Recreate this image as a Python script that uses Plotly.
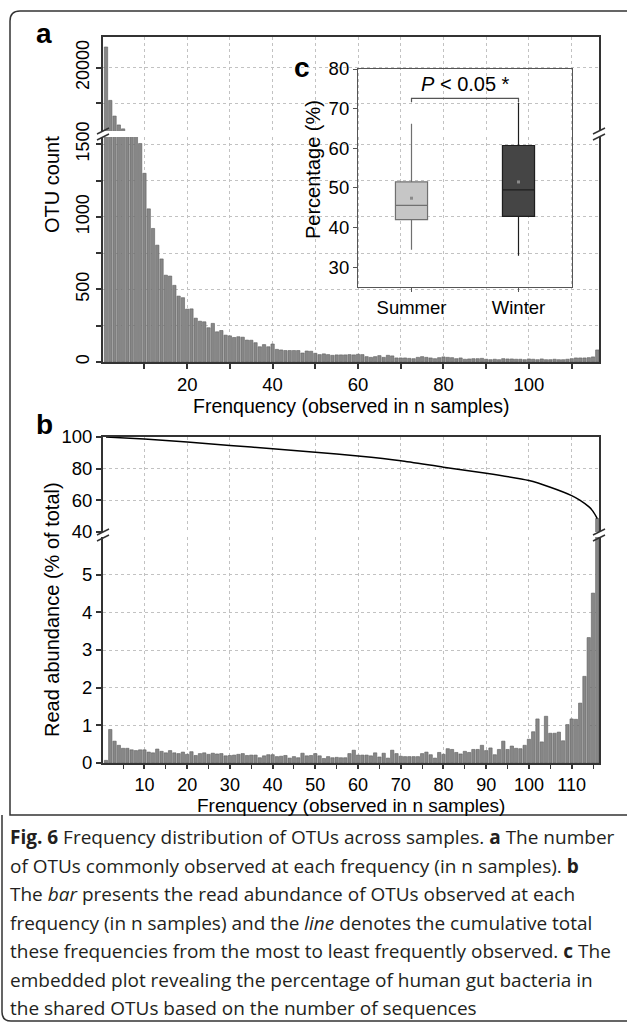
import plotly.graph_objects as go

W, H = 627, 1023


def px(x):
    return x / W


def py(y):
    return 1 - y / H


# ---------------- data ----------------
freq = list(range(1, 117))

otu_count = [
    25800, 10800, 6400, 3900, 2800, 2000, 1750, 1600, 1505, 1300,
    1055, 920, 805, 710, 598, 592, 528, 454, 443, 364,
    366, 302, 281, 277, 236, 266, 208, 217, 185, 180,
    169, 174, 171, 151, 150, 133, 105, 120, 105, 124,
    87, 83, 79, 79, 79, 79, 62, 76, 74, 60,
    51, 56, 51, 46, 49, 49, 49, 51, 49, 53,
    51, 37, 32, 37, 44, 32, 46, 42, 28, 28,
    28, 25, 23, 32, 37, 32, 28, 23, 30, 35,
    32, 30, 23, 28, 19, 21, 23, 23, 25, 19,
    16, 19, 16, 23, 21, 21, 19, 19, 16, 21,
    19, 16, 21, 16, 16, 19, 16, 16, 19, 23,
    28, 28, 28, 30, 35, 83,
]

read_abundance = [
    0.07, 0.89, 0.58, 0.47, 0.39, 0.39, 0.35, 0.33, 0.35, 0.35,
    0.29, 0.27, 0.37, 0.31, 0.27, 0.33, 0.27, 0.25, 0.29, 0.23,
    0.30, 0.20, 0.25, 0.27, 0.23, 0.26, 0.24, 0.25, 0.19, 0.20,
    0.21, 0.23, 0.25, 0.20, 0.21, 0.21, 0.14, 0.19, 0.22, 0.22,
    0.17, 0.18, 0.20, 0.13, 0.17, 0.14, 0.26, 0.19, 0.20, 0.25,
    0.19, 0.12, 0.17, 0.14, 0.15, 0.14, 0.14, 0.25, 0.34, 0.21,
    0.21, 0.21, 0.19, 0.27, 0.16, 0.26, 0.13, 0.34, 0.25, 0.18,
    0.17, 0.17, 0.17, 0.17, 0.25, 0.29, 0.22, 0.13, 0.28, 0.23,
    0.38, 0.36, 0.28, 0.24, 0.31, 0.28, 0.36, 0.36, 0.47, 0.33,
    0.40, 0.22, 0.36, 0.58, 0.36, 0.45, 0.39, 0.38, 0.47, 0.63,
    0.83, 1.17, 0.56, 1.24, 0.79, 0.79, 0.82, 0.59, 1.02, 1.17,
    1.16, 1.59, 2.30, 3.33, 4.51, 48.5,
]

cum_freq = [1, 10, 20, 30, 40, 50, 60, 70, 80, 90, 100, 105, 110, 112, 114, 115, 116]
cum_total = [100, 98.7, 96.9, 94.7, 92.6, 90.4, 88.0, 85.0, 80.9, 77.1, 72.5, 68.3,
             63.0, 60.0, 56.0, 53.0, 48.5]

seasons = ["Summer", "Winter"]
box_q1 = [42.0, 42.8]
box_median = [45.6, 49.5]
box_q3 = [51.5, 60.7]
box_low = [34.4, 32.9]
box_high = [66.2, 71.5]
box_mean = [47.4, 51.5]
box_fill = ["#c6c6c6", "#454545"]
box_line = ["#707070", "#1e1e1e"]

a_xticks = list(range(10, 120, 10))
a_xtext = [str(v) if v % 20 == 0 else "" for v in a_xticks]
a_yticks = list(range(0, 1501, 250))
a_ytext = [str(v) if v % 500 == 0 else "" for v in a_yticks]

# ---------------- figure ----------------
FONT = "Liberation Sans, Arial, sans-serif"
AX = "#333333"
GRID = "#c2c2c2"

fig = go.Figure()
bar_style = dict(marker_color="#878787", marker_line_color="#5e5e5e",
                 marker_line_width=0.6, showlegend=False, hoverinfo="skip")

fig.add_bar(x=freq, y=otu_count, xaxis="x", yaxis="y", **bar_style)
fig.add_bar(x=freq, y=otu_count, xaxis="x2", yaxis="y2", **bar_style)
fig.add_bar(x=freq, y=read_abundance, xaxis="x3", yaxis="y3", **bar_style)
fig.add_bar(x=freq, y=read_abundance, xaxis="x4", yaxis="y4", **bar_style)
fig.add_scatter(x=cum_freq, y=cum_total, xaxis="x4", yaxis="y4", mode="lines",
                line=dict(color="black", width=1.5, shape="spline", smoothing=0.6),
                showlegend=False)

for i, s in enumerate(seasons):
    fig.add_trace(go.Box(
        x=[s], q1=[box_q1[i]], median=[box_median[i]], q3=[box_q3[i]],
        lowerfence=[box_low[i]], upperfence=[box_high[i]],
        fillcolor=box_fill[i], line=dict(color=box_line[i], width=1.2),
        width=0.3, whiskerwidth=0, boxpoints=False, showlegend=False,
        xaxis="x5", yaxis="y5"))
fig.add_scatter(x=seasons, y=box_mean, mode="markers", xaxis="x5", yaxis="y5",
                marker=dict(symbol="square", size=3, color="#8a8a8a"), showlegend=False)

xdom = [px(103), px(599)]
xrange_ = [0.3, 116.4]
tickfont = dict(family=FONT, size=18.5, color="black")

base_x = dict(range=xrange_, domain=xdom, showgrid=True, gridcolor=GRID, griddash="dot",
              gridwidth=1, zeroline=False, showline=True, linecolor=AX, linewidth=2,
              automargin=False)
base_y = dict(showgrid=True, gridcolor=GRID, griddash="dot", gridwidth=1, zeroline=False,
              showline=True, linecolor=AX, linewidth=2, mirror=True, ticks="outside",
              ticklen=5, tickwidth=1.5, tickcolor=AX, automargin=False)

fig.update_layout(
    width=W, height=H, autosize=False,
    margin=dict(l=0, r=0, t=0, b=0, pad=0, autoexpand=False),
    paper_bgcolor="white", plot_bgcolor="rgba(0,0,0,0)", showlegend=False,
    bargap=0.22, font=dict(family=FONT, color="black"),
    xaxis=dict(base_x, anchor="y", tickvals=a_xticks, ticktext=a_xtext, ticks="outside",
               ticklen=5, tickwidth=1.5, tickcolor=AX, tickfont=tickfont),
    xaxis2=dict(base_x, anchor="y2", tickvals=a_xticks, showticklabels=False, ticks="",
                side="top"),
    yaxis=dict(base_y, anchor="x", domain=[py(362), py(137)], range=[0, 1550],
               tickvals=a_yticks, ticktext=a_ytext, tickangle=-90,
               tickfont=dict(family=FONT, size=18, color="black")),
    yaxis2=dict(base_y, anchor="x2", domain=[py(131), py(37)], range=[2200, 28600],
                tickvals=[10000, 20000], ticktext=["", "20000"], tickangle=-90,
                tickfont=dict(family=FONT, size=18, color="black")),
    xaxis3=dict(base_x, anchor="y3", tickmode="linear", tick0=10, dtick=10,
                ticks="outside", ticklen=4, tickwidth=1.5, tickcolor=AX,
                tickfont=dict(family=FONT, size=18, color="black"),
                minor=dict(tick0=0, dtick=5, ticks="outside", ticklen=4, tickwidth=1.2,
                           tickcolor=AX, showgrid=False)),
    xaxis4=dict(base_x, anchor="y4", tickmode="linear", tick0=10, dtick=10,
                showticklabels=False, ticks="", side="top"),
    yaxis3=dict(base_y, anchor="x3", domain=[py(763), py(537)], range=[0, 6.0],
                tickvals=[0, 1, 2, 3, 4, 5], tickfont=tickfont),
    yaxis4=dict(base_y, anchor="x4", domain=[py(532), py(437)], range=[40, 100],
                tickvals=[40, 60, 80, 100], tickfont=tickfont),
    xaxis5=dict(anchor="y5", domain=[px(358), px(572)], type="category",
                range=[-0.5, 1.5], showline=True, mirror=True, linecolor="#555555",
                linewidth=1.2, ticks="outside", ticklen=4, tickcolor="#555555",
                showgrid=False, zeroline=False, tickfont=tickfont, automargin=False),
    yaxis5=dict(anchor="x5", domain=[py(287), py(69)], range=[25, 80],
                tickvals=[30, 40, 50, 60, 70, 80], showline=True, mirror=True,
                linecolor="#555555", linewidth=1.2, ticks="outside", ticklen=4,
                tickcolor="#555555", showgrid=False, zeroline=False, tickfont=tickfont,
                automargin=False),
)

# ---------------- shapes ----------------
shapes = []


def seg(x0, y0, x1, y1, color=AX, width=1.5):
    shapes.append(dict(type="line", xref="paper", yref="paper", x0=px(x0), y0=py(y0),
                       x1=px(x1), y1=py(y1), line=dict(color=color, width=width)))


# break marks panel a (left & right)
for xc in (103, 599):
    seg(xc - 6, 134, xc + 6, 128)
    seg(xc - 6, 140, xc + 6, 134)
# break marks panel b
for xc in (103, 599):
    seg(xc - 6, 535, xc + 6, 529)
    seg(xc - 6, 541, xc + 6, 535)

# significance bracket in inset
shapes.append(dict(type="path", xref="x5", yref="y5",
                   path="M 0,71.6 L 0,72.6 L 1,72.6 L 1,71.6",
                   line=dict(color="#555555", width=1.2)))

# outer frame: figure box and caption box
frame = "M %f,%f L %f,%f Q %f,%f %f,%f L %f,%f L %f,%f" % (
    px(640), py(11), px(20), py(11), px(10), py(11), px(10), py(21),
    px(10), py(815), px(640), py(815))
shapes.append(dict(type="path", xref="paper", yref="paper", path=frame,
                   line=dict(color="#333333", width=1.5)))
cap = "M %f,%f L %f,%f Q %f,%f %f,%f L %f,%f" % (
    px(2), py(815), px(2), py(1012), px(2), py(1021), px(11), py(1021), px(640), py(1021))
shapes.append(dict(type="path", xref="paper", yref="paper", path=cap,
                   line=dict(color="#333333", width=1.5)))
fig.update_layout(shapes=shapes)

# ---------------- annotations ----------------
ann = []


def text(x, y, s, size=20, angle=0, xanchor="center", family=FONT, color="black"):
    ann.append(dict(xref="paper", yref="paper", x=px(x), y=py(y), text=s,
                    showarrow=False, textangle=angle, xanchor=xanchor, yanchor="middle",
                    font=dict(family=family, size=size, color=color)))


text(44, 34, "<b>a</b>", size=28)
text(44, 424, "<b>b</b>", size=28)
text(302, 68, "<b>c</b>", size=28)
text(52, 185, "OTU count", size=20, angle=-90)
text(52, 610, "Read abundance (% of total)", size=20, angle=-90)
text(313, 170, "Percentage (%)", size=20, angle=-90)
text(351, 406, "Frenquency (observed in n samples)", size=19.5)
text(351, 805, "Frenquency (observed in n samples)", size=19)
ann.append(dict(xref="x5", yref="y5", x=0.5, y=76.3, text="<i>P</i> < 0.05 *",
                showarrow=False, font=dict(family=FONT, size=20, color="black")))

caption = [
    "<b>Fig. 6</b> Frequency distribution of OTUs across samples. <b>a</b> The number",
    "of OTUs commonly observed at each frequency (in n samples). <b>b</b>",
    "The <i>bar</i> presents the read abundance of OTUs observed at each",
    "frequency (in n samples) and the <i>line</i> denotes the cumulative total",
    "these frequencies from the most to least frequently observed. <b>c</b> The",
    "embedded plot revealing the percentage of human gut bacteria in",
    "the shared OTUs based on the number of sequences",
]
for i, line in enumerate(caption):
    text(8, 837 + i * 28.5, line, size=19, xanchor="left", family="Open Sans",
         color="#231f20")

fig.update_layout(annotations=ann)
fig.write_html("out.html", config={"displayModeBar": False},
               post_script="document.body.style.margin='0';"
                           "document.body.style.overflow='hidden';")
